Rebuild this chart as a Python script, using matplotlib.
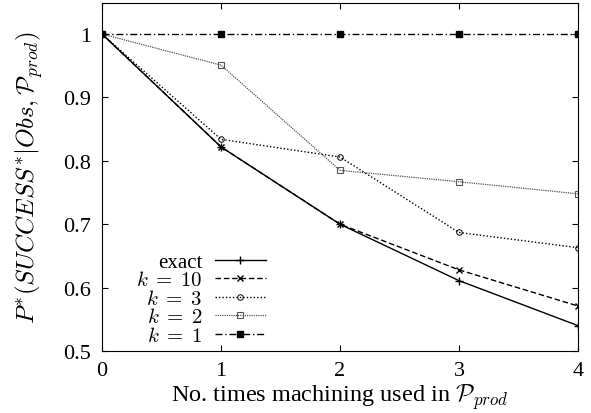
import matplotlib.pyplot as plt

plt.rcParams['font.family'] = 'Liberation Serif'
plt.rcParams['mathtext.fontset'] = 'cm'

times = [0, 1, 2, 3, 4]
exact = [1.0, 0.822, 0.700, 0.611, 0.540]
k10 = [1.0, 0.822, 0.700, 0.628, 0.571]
k3 = [1.0, 0.834, 0.806, 0.687, 0.663]
k2 = [1.0, 0.951, 0.785, 0.767, 0.748]
k1 = [1.0, 1.0, 1.0, 1.0, 1.0]

fig = plt.figure(figsize=(5.91, 4.14), dpi=100)
# axes box: x 102..578 px, y 4..352 px
ax = fig.add_axes([102/591, (414-352)/414, 476/591, 348/414])

ax.plot(times, exact, color='black', lw=1, marker='+', ms=6, label='exact')
ax.plot(times, k10, color='black', lw=1, ls=(0, (4, 2)), marker='x', ms=4, label=r'$k \;=\; 10$')
ax.plot(times, k3, color='black', lw=1, ls=(0, (1, 1.5)), marker='o', ms=4, mfc='none', mew=0.7, label=r'$k \;=\; 3$')
ax.plot(times, k2, color='#555555', lw=0.9, ls=(0, (1, 0.8)), marker='s', ms=4.5, mfc='none', mew=0.8, label=r'$k \;=\; 2$')
ax.plot(times, k1, color='black', lw=1, ls=(0, (5, 2, 1, 2)), marker='s', ms=5, label=r'$k \;=\; 1$')

ax.set_xlim(0, 4)
ax.set_ylim(0.5, 1.049)
ax.set_xticks(times)
ax.set_yticks([0.5, 0.6, 0.7, 0.8, 0.9, 1.0])
ax.set_yticklabels(['0.5', '0.6', '0.7', '0.8', '0.9', '1'])
ax.tick_params(direction='in', top=True, right=True, labelsize=16, length=4.5)
ax.tick_params(axis='y', pad=8)
ax.tick_params(axis='x', pad=7)

ax.set_xlabel(r'No. times machining used in $\mathcal{P}_{prod}$', fontsize=17.5, labelpad=1)
ax.set_ylabel(r'$P^{*}(SUCCESS^{*}|Obs, \mathcal{P}_{prod})$', fontsize=18)
ax.yaxis.set_label_coords(-0.119, 0.5)

ax.legend(loc='lower right', frameon=False, markerfirst=False, fontsize=15,
          handlelength=2.45, labelspacing=-0.05, handletextpad=0.6,
          borderpad=0, borderaxespad=0,
          bbox_to_anchor=(266/591, (414-347)/414), bbox_transform=fig.transFigure)

fig.savefig('out.png', dpi=100)
